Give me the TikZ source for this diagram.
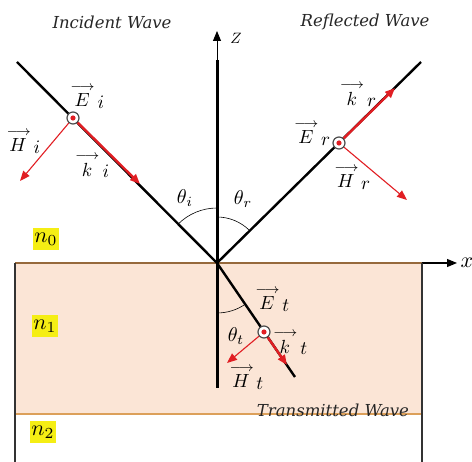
\documentclass[tikz,border=0pt]{standalone}
\usepackage{fontspec}
\newfontfamily\titlefont{DejaVu Serif}
\usetikzlibrary{arrows.meta}
\definecolor{peach}{RGB}{251,229,214}
\definecolor{edgeor}{RGB}{220,160,90}
\definecolor{edgebr}{RGB}{150,105,60}
\definecolor{wred}{RGB}{225,30,35}
\definecolor{hl}{RGB}{245,238,20}
\newcommand\vlab[2]{${\stackrel{\longrightarrow}{#1}}\,\raisebox{-2pt}{$#2$}$}
\begin{document}
\begin{tikzpicture}[x=1pt,y=-1pt,
  ray/.style={line width=2.4pt, black},
  tip/.style={-{Triangle[length=10pt,width=8pt]}},
  kvec/.style={line width=2.4pt, wred, -{Triangle[length=10pt,width=8pt]}},
  hvec/.style={line width=1.1pt, wred, -{Triangle[length=10pt,width=8pt]}},
  ptmark/.style={circle, draw=gray!60!black, line width=1.2pt, fill=white, minimum size=12pt, inner sep=0pt,
    path picture={\fill[wred] (path picture bounding box.center) circle (2.6pt);}},
  lbl/.style={inner sep=0pt, scale=1.9},
  ang/.style={inner sep=0pt, scale=2.0},
  title/.style={font=\fontsize{16.5}{19}\titlefont\itshape, inner sep=0pt, text=black!85},
  nlab/.style={fill=hl, inner sep=0pt, minimum width=11.8pt, minimum height=10pt, scale=2.2},
  arcline/.style={line width=0.6pt, black}
]
\useasboundingbox (0,0) rectangle (472,462);
% medium
\fill[peach] (15,263) rectangle (422,414);
\coordinate (O) at (217,263);
\coordinate (xl) at (15,263);
\coordinate (xr) at (422,263);
\coordinate (xtip) at (457,263);
\coordinate (bl) at (15,414);
\coordinate (br) at (422,414);
\coordinate (ll) at (15,462);
\coordinate (rl) at (422,462);
\draw[line width=1.1pt, tip] (xl) -- (xtip);
\draw[edgebr, line width=1.4pt] (xl) -- (xr);
\draw[edgeor, line width=1.2pt] (bl) -- (br);
\draw[line width=2.2pt, black!80] (xl) -- (ll);
\draw[line width=2.2pt, black!80] (xr) -- (rl);
% z axis
\coordinate (zb) at (217,388);
\coordinate (zt) at (217,60);
\coordinate (ztip) at (217,31);
\draw[line width=3pt] (zb) -- (zt);
\draw[line width=1pt, tip] (zt) -- (ztip);
% rays
\coordinate (ia) at (17,62);
\coordinate (ra) at (421,62);
\coordinate (ta) at (295,377);
\draw[ray] (ia) -- (O);
\draw[ray] (O) -- (ra);
\draw[ray] (O) -- (ta);
% angle arcs
\draw[arcline] (O) ++(-90:55) arc[start angle=-90, end angle=-135, radius=55];
\draw[arcline] (O) ++(-90:46) arc[start angle=-90, end angle=-45, radius=46];
\draw[arcline] (O) ++(90:50) arc[start angle=90, end angle=55.6, radius=50];
% points
\node[ptmark] (ci) at (73,118) {};
\node[ptmark] (cr) at (339,143) {};
\node[ptmark] (ct) at (264,332) {};
\coordinate (ki) at (140,184);
\coordinate (hi) at (20,181);
\coordinate (kr) at (395,88);
\coordinate (hr) at (407,200);
\coordinate (kt) at (287,365);
\coordinate (ht) at (227,363);
\draw[kvec] (ci) -- (ki);
\draw[hvec] (ci) -- (hi);
\draw[kvec] (cr) -- (kr);
\draw[hvec] (cr) -- (hr);
\draw[kvec] (ct) -- (kt);
\draw[hvec] (ct) -- (ht);
% labels
\node[title] (tinc) at (112,22) {Incident Wave};
\node[title] (tref) at (365,22) {Reflected Wave};
\node[title] (ttr) at (333,410) {Transmitted Wave};
\node[inner sep=0pt, scale=1.5] (zl) at (236,38) {$Z$};
\node[inner sep=0pt, scale=2.2] (xlab) at (467,263) {$x$};
\node[lbl] (ei) at (87,96) {\vlab{E}{i}};
\node[lbl] (hil) at (23,141) {\vlab{H}{i}};
\node[lbl] (kil) at (92,165) {\vlab{k}{i}};
\node[lbl] (er) at (312,133) {\vlab{E}{r}};
\node[lbl] (krl) at (358,94) {\vlab{k}{r}};
\node[lbl] (hrl) at (352,177) {\vlab{H}{r}};
\node[lbl] (et) at (272,299) {\vlab{E}{t}};
\node[lbl] (ktl) at (290,342) {\vlab{k}{t}};
\node[lbl] (htl) at (246,377) {\vlab{H}{t}};
\node[ang] (thi) at (185,198) {$\theta_i$};
\node[ang] (thr) at (243,199) {$\theta_r$};
\node[ang] (tht) at (236,336) {$\theta_t$};
\node[nlab] (n0) at (46,239) {$n_0$};
\node[nlab] (n1) at (45,326) {$n_1$};
\node[nlab] (n2) at (43,432) {$n_2$};
\end{tikzpicture}
\end{document}
